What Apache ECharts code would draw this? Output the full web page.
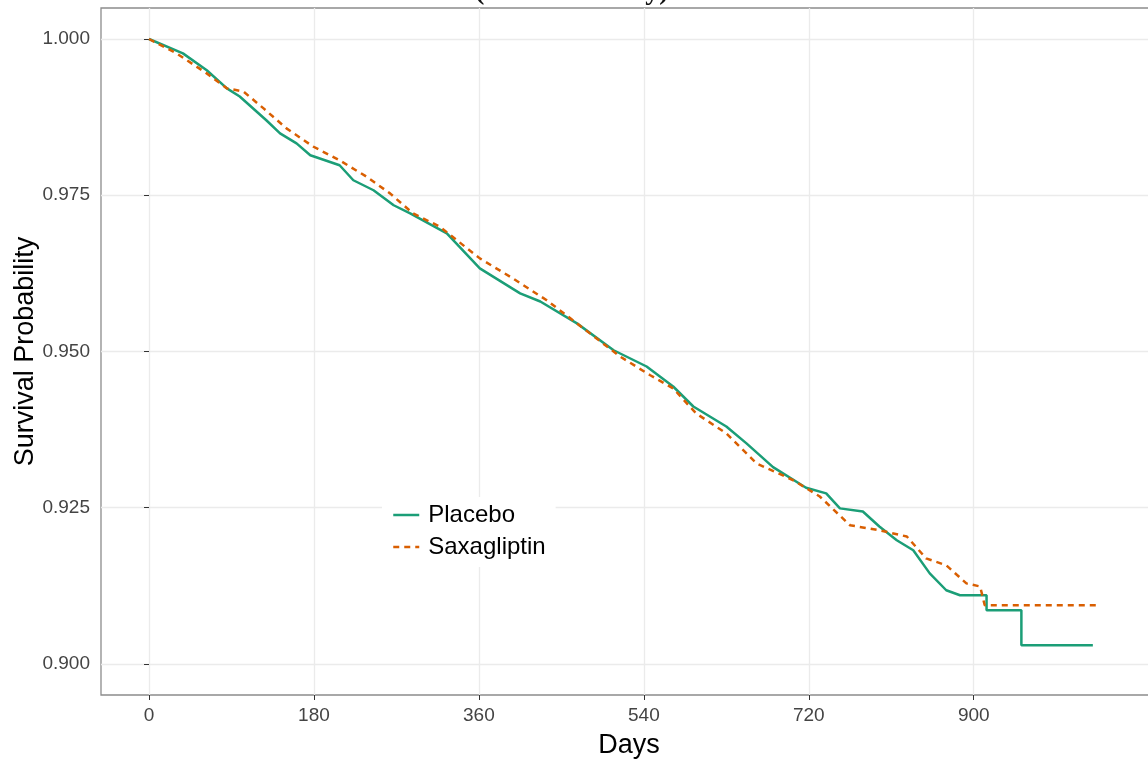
<!DOCTYPE html>
<html>
<head>
<meta charset="utf-8">
<script src="https://cdn.jsdelivr.net/npm/echarts@6/dist/echarts.min.js"></script>
<style>
  html, body { margin: 0; padding: 0; background: #fff; }
  #chart { width: 1148px; height: 760px; }
</style>
</head>
<body>
<div id="chart"></div>
<script>
// Kaplan-Meier curves (day, survival)
var placeboDays = [0, 37, 63, 85, 99, 128, 143, 161, 176, 208, 223, 245, 267, 285, 325, 361, 405, 427, 467, 507, 543, 572, 594, 630, 652, 681, 717, 739, 754, 779, 797, 816, 834, 852, 870, 885, 914, 914, 952, 952, 1030];
var placeboSurv = [1.000, 0.9977, 0.9950, 0.9921, 0.9908, 0.9870, 0.9849, 0.9833, 0.9814, 0.9798, 0.9774, 0.9758, 0.9734, 0.9721, 0.9689, 0.9633, 0.9593, 0.9580, 0.9545, 0.9502, 0.9476, 0.9444, 0.9412, 0.9380, 0.9353, 0.9315, 0.9282, 0.9273, 0.9249, 0.9244, 0.9220, 0.9198, 0.9182, 0.9145, 0.9118, 0.9110, 0.9110, 0.9086, 0.9086, 0.9030, 0.9030];

var saxaDays = [0, 30, 63, 85, 103, 125, 150, 179, 208, 237, 263, 288, 317, 361, 397, 434, 467, 514, 547, 572, 597, 630, 663, 703, 732, 765, 797, 827, 848, 870, 892, 907, 912, 1037];
var saxaSurv = [1.000, 0.9977, 0.9945, 0.9921, 0.9916, 0.9889, 0.9857, 0.9828, 0.9806, 0.9780, 0.9753, 0.9721, 0.9700, 0.9649, 0.9617, 0.9582, 0.9545, 0.9492, 0.9462, 0.9441, 0.9401, 0.9369, 0.9321, 0.9294, 0.9268, 0.9222, 0.9214, 0.9204, 0.9169, 0.9158, 0.9129, 0.9124, 0.9094, 0.9094];

var xTicks = [0, 180, 360, 540, 720, 900];
var yTicks = [0.900, 0.925, 0.950, 0.975, 1.000];

function pairs(xs, ys) {
    var out = [];
    for (var i = 0; i < xs.length; i++) {
        out.push([xs[i], ys[i]]);
    }
    return out;
}

var font = '"Liberation Sans", Arial, sans-serif';
var myChart = echarts.init(document.getElementById('chart'));
myChart.setOption({
    animation: false,
    title: {
        text: '(SPD-CR study)',
        left: 470,
        top: -27,
        textStyle: { fontFamily: '"Liberation Serif", serif', fontWeight: 'bold', fontSize: 28, color: '#111' }
    },
    grid: {
        left: 101, top: 8, width: 1056, height: 687,
        outerBoundsMode: 'none', containLabel: false,
        show: true, borderColor: '#8c8c8c', borderWidth: 1.3, backgroundColor: '#fff'
    },
    legend: {
        orient: 'vertical',
        left: 382, top: 497,
        backgroundColor: '#fff',
        padding: [6, 10, 8, 10],
        itemWidth: 26, itemHeight: 14, itemGap: 8,
        itemStyle: { opacity: 0 },
        lineStyle: { width: 2.5 },
        textStyle: { fontFamily: font, fontSize: 24, color: '#000', padding: [0, 0, 0, 4] },
        data: ['Placebo', 'Saxagliptin']
    },
    xAxis: {
        type: 'value', min: -52.4, max: 1100,
        name: 'Days', nameLocation: 'middle', nameGap: 37, nameMoveOverlap: false,
        nameTextStyle: { fontFamily: font, fontSize: 27, color: '#000' },
        axisLine: { show: false },
        axisTick: { show: true, length: 5, customValues: xTicks, lineStyle: { color: '#333' } },
        axisLabel: { customValues: xTicks, margin: 11, fontFamily: font, fontSize: 19, color: '#444' },
        splitLine: { show: true, lineStyle: { color: '#ebebeb', width: 1.3 } }
    },
    yAxis: {
        type: 'value', min: 0.89504, max: 1.00496,
        name: 'Survival Probability', nameLocation: 'middle', nameGap: 62, nameMoveOverlap: false,
        nameTextStyle: { fontFamily: font, fontSize: 27, color: '#000' },
        axisLine: { show: false },
        axisTick: { show: true, length: 5, customValues: yTicks, lineStyle: { color: '#333' } },
        axisLabel: {
            customValues: yTicks, margin: 11, fontFamily: font, fontSize: 19, color: '#444',
            formatter: function (v) { return v.toFixed(3); }
        },
        splitLine: { show: true, lineStyle: { color: '#ebebeb', width: 1.3 } }
    },
    series: [{
        name: 'Placebo',
        type: 'line',
        symbol: 'none',
        data: pairs(placeboDays, placeboSurv),
        lineStyle: { color: '#1b9e77', width: 2.5 },
        itemStyle: { color: '#1b9e77' }
    }, {
        name: 'Saxagliptin',
        type: 'line',
        symbol: 'none',
        data: pairs(saxaDays, saxaSurv),
        lineStyle: { color: '#d95f02', width: 2.5, type: [6, 5] },
        itemStyle: { color: '#d95f02' }
    }]
});
</script>
</body>
</html>
